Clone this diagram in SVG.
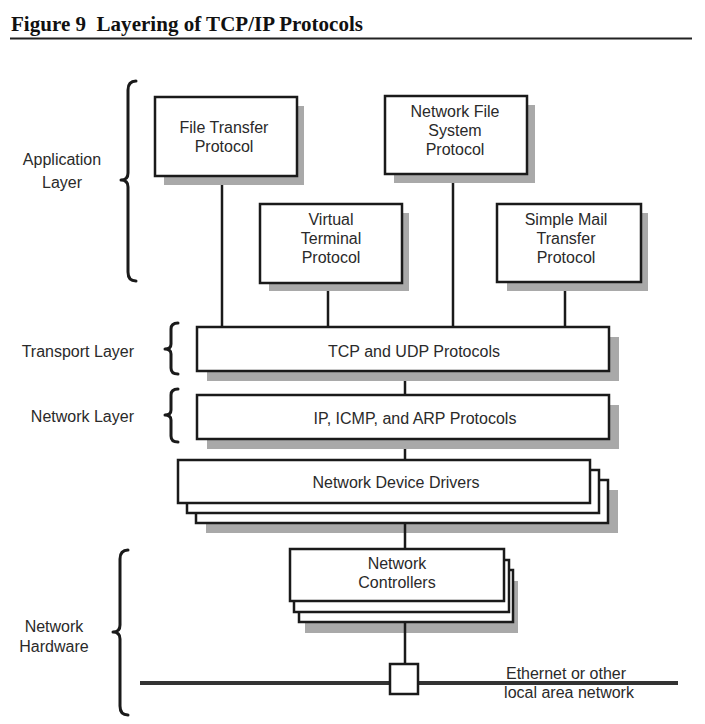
<svg xmlns="http://www.w3.org/2000/svg" width="705" height="724" viewBox="0 0 705 724">
<style>
.box{fill:#fff;stroke:#1a1a1a;stroke-width:2.5}
.sh{fill:#a9a9a9}
.t{font-family:"Liberation Sans",Arial,sans-serif;font-size:16px;fill:#2a2a2a;text-anchor:middle}
.lbl{font-family:"Liberation Sans",Arial,sans-serif;font-size:16px;fill:#2a2a2a}
.ln{stroke:#1a1a1a;stroke-width:2.5;fill:none}
.br{stroke:#1a1a1a;stroke-width:3;fill:none;stroke-linecap:round;stroke-linejoin:round}
</style>
<rect width="705" height="724" fill="#fff"/>
<g id="title">
<text x="11" y="31" font-family="'Liberation Serif','Times New Roman',serif" font-weight="bold" font-size="21" fill="#111" textLength="352">Figure 9&#160; Layering of TCP/IP Protocols</text>
<line x1="10" y1="38.5" x2="692" y2="38.5" stroke="#222" stroke-width="2"/>
</g>
<g id="braces">
<path class="br" d="M136,81 Q128,81 128,90 L128,173 Q128,180 121,180 Q128,180 128,187 L128,272 Q128,281 136,281"/>
<path class="br" d="M178,323 Q171,323 171,329 L171,344 Q171,349 165,349 Q171,349 171,354 L171,368 Q171,374 178,374"/>
<path class="br" d="M178,389 Q171,389 171,395 L171,410 Q171,415 165,415 Q171,415 171,420 L171,436 Q171,442 178,442"/>
<path class="br" d="M128,550 Q120,550 120,559 L120,625 Q120,632 113,632 Q120,632 120,639 L120,706 Q120,715 128,715"/>
</g>
<g id="labels">
<text class="t" x="62" y="165">Application</text>
<text class="t" x="62" y="188">Layer</text>
<text class="lbl" x="134" y="357" text-anchor="end">Transport Layer</text>
<text class="lbl" x="134" y="422" text-anchor="end">Network Layer</text>
<text class="t" x="54" y="632">Network</text>
<text class="t" x="54" y="652">Hardware</text>
</g>
<g id="connectors">
<line class="ln" x1="222" y1="176" x2="222" y2="328"/>
<line class="ln" x1="328" y1="283" x2="328" y2="328"/>
<line class="ln" x1="453" y1="174" x2="453" y2="328"/>
<line class="ln" x1="565" y1="282" x2="565" y2="328"/>
<line class="ln" x1="405" y1="371" x2="405" y2="395"/>
<line class="ln" x1="405" y1="439" x2="405" y2="460"/>
</g>
<g id="ftp">
<rect class="sh" x="164" y="106" width="140" height="79"/>
<rect class="box" x="155" y="97" width="142" height="79"/>
<text class="t" x="224" y="133">File Transfer</text>
<text class="t" x="224" y="152">Protocol</text>
</g>
<g id="nfs">
<rect class="sh" x="394" y="105" width="141" height="78"/>
<rect class="box" x="385" y="96" width="142" height="78"/>
<text class="t" x="455" y="117">Network File</text>
<text class="t" x="455" y="136">System</text>
<text class="t" x="455" y="155">Protocol</text>
</g>
<g id="vtp">
<rect class="sh" x="269" y="213" width="140" height="78"/>
<rect class="box" x="260" y="204" width="142" height="79"/>
<text class="t" x="331" y="225">Virtual</text>
<text class="t" x="331" y="244">Terminal</text>
<text class="t" x="331" y="263">Protocol</text>
</g>
<g id="smtp">
<rect class="sh" x="507" y="213" width="141" height="78"/>
<rect class="box" x="497" y="204" width="144" height="78"/>
<text class="t" x="566" y="225">Simple Mail</text>
<text class="t" x="566" y="244">Transfer</text>
<text class="t" x="566" y="263">Protocol</text>
</g>
<g id="tcp">
<rect class="sh" x="207" y="337" width="412" height="44"/>
<rect class="box" x="197" y="327" width="412" height="44"/>
<text class="t" x="414" y="357">TCP and UDP Protocols</text>
</g>
<g id="ip">
<rect class="sh" x="207" y="405" width="412" height="44"/>
<rect class="box" x="197" y="395" width="412" height="44"/>
<text class="t" x="415" y="424">IP, ICMP, and ARP Protocols</text>
</g>
<g id="drivers">
<rect class="sh" x="206" y="490" width="412" height="43"/>
<rect class="box" x="196" y="480" width="412" height="43"/>
<rect class="box" x="187" y="470" width="412" height="43"/>
<rect class="box" x="178" y="460" width="412" height="43"/>
<text class="t" x="396" y="488">Network Device Drivers</text>
</g>
<g id="controllers">
<rect class="sh" x="305" y="581" width="213" height="52"/>
<rect class="box" x="299" y="570" width="214" height="52"/>
<rect class="box" x="294" y="560" width="215" height="52"/>
<rect class="box" x="290" y="549" width="214" height="52"/>
<text class="t" x="397" y="569">Network</text>
<text class="t" x="397" y="588">Controllers</text>
</g>
<g id="connectors2">
<line class="ln" x1="405" y1="523" x2="405" y2="549"/>
<line class="ln" x1="405" y1="622" x2="405" y2="664"/>
</g>
<g id="lan">
<line x1="140" y1="683" x2="678" y2="683" stroke="#333" stroke-width="4"/>
<rect class="box" x="390" y="664" width="28" height="30"/>
<text class="t" x="566" y="679">Ethernet or other</text>
<text class="t" x="569" y="698">local area network</text>
</g>
</svg>
